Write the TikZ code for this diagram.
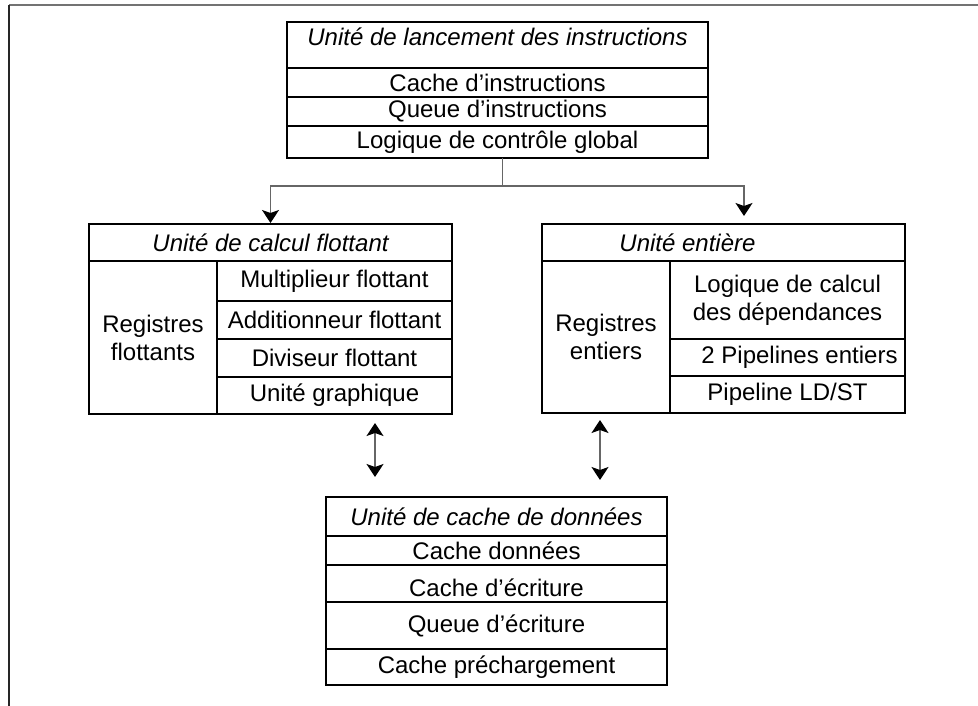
\documentclass[tikz,border=0pt]{standalone}
\usepackage{fontspec}
\setmainfont{Liberation Sans}
\usetikzlibrary{arrows.meta, positioning, calc}

\newlength{\px}
\setlength{\px}{0.75pt}

\begin{document}
\begin{tikzpicture}[
      x=0.75pt, y=-0.75pt,
      cell/.style  ={rectangle, draw, line width=1pt, inner sep=2pt, outer sep=0pt,
                     font=\fontsize{18}{21}\selectfont, align=center},
      titre/.style ={cell, font=\fontsize{18}{21}\selectfont\itshape},
      lien/.style  ={draw=black!60, line width=1pt},
      fleche/.style={lien, -{Stealth[length=9.75pt, width=12.75pt, inset=2.25pt, color=black]}},
      echange/.style={lien, {Stealth[length=9.75pt, width=12.75pt, inset=2.25pt, color=black]}-{Stealth[length=9.75pt, width=12.75pt, inset=2.25pt, color=black]}}
    ]

    \useasboundingbox (0,0) rectangle (978,706);

    % Cadre
    \draw[line width=2pt, black!55] (9,5) -- (978,5);
    \draw[line width=2pt, black!85] (9,5) -- (9,706);

    % Unite de lancement
    \node[titre, anchor=north west, minimum width=421\px, minimum height=46\px, text depth=12pt] (lanc) at (287,22) {Unité de lancement des instructions};
    \node[cell, below=0pt of lanc,   minimum width=421\px, minimum height=29\px] (cacheI) {Cache d’instructions};
    \node[cell, below=0pt of cacheI, minimum width=421\px, minimum height=29\px] (queueI) {Queue d’instructions};
    \node[cell, below=0pt of queueI, minimum width=421\px, minimum height=32\px] (ctrl)   {Logique de contrôle global};

    % Unite flottante
    \node[titre, anchor=north west, minimum width=363\px, minimum height=37\px] (fpTitre) at (89,224) {Unité de calcul flottant};
    \node[cell, anchor=north west, minimum width=128\px, minimum height=153\px] (fpReg) at (fpTitre.south west) {Registres\\flottants};
    \node[cell, anchor=north east, minimum width=235\px, minimum height=40\px] (fpMul) at (fpTitre.south east) {Multiplieur flottant};
    \node[cell, below=0pt of fpMul, minimum width=235\px, minimum height=38\px] (fpAdd)   {Additionneur flottant};
    \node[cell, below=0pt of fpAdd, minimum width=235\px, minimum height=38\px] (fpDiv)   {Diviseur flottant};
    \node[cell, below=0pt of fpDiv, minimum width=235\px, minimum height=37\px] (fpGraph) {Unité graphique};

    % Unite entiere
    \node[titre, anchor=north west, minimum width=363\px, minimum height=37\px] (entTitre) at (542,224) {Unité entière\hspace*{72\px}};
    \node[cell, anchor=north west, minimum width=128\px, minimum height=152\px] (entReg) at (entTitre.south west) {Registres\\entiers};
    \node[cell, anchor=north east, minimum width=235\px, minimum height=78\px] (entDep) at (entTitre.south east) {Logique de calcul\\des dépendances};
    \node[cell, below=0pt of entDep, minimum width=235\px, minimum height=37\px] (entPip) {\hspace*{24\px}2 Pipelines entiers};
    \node[cell, below=0pt of entPip, minimum width=235\px, minimum height=37\px] (entLS)  {Pipeline LD/ST};

    % Unite de cache de donnees
    \node[titre, anchor=north west, minimum width=341\px, minimum height=39\px] (cacheTitre) at (326,497) {Unité de cache de données};
    \node[cell, below=0pt of cacheTitre, minimum width=341\px, minimum height=29\px] (cacheD) {Cache données};
    \node[cell, below=0pt of cacheD,     minimum width=341\px, minimum height=37\px, text height=19pt] (cacheE) {Cache d’écriture};
    \node[cell, below=0pt of cacheE,     minimum width=341\px, minimum height=47\px] (queueE) {Queue d’écriture};
    \node[cell, below=0pt of queueE,     minimum width=341\px, minimum height=36\px] (cacheP) {Cache préchargement};

    % Distribution des instructions
    \coordinate (versEnt) at (744,200);
    \draw[fleche, shorten >=1\px] ([xshift=5\px]ctrl.south) -- ++(0,28) -| (fpTitre.north);
    \draw[fleche, shorten >=8\px] ([xshift=5\px]ctrl.south) -- ++(0,28) -| (entTitre.north -| versEnt);

    % Echanges avec le cache
    \coordinate (lienFp)  at (375,450);
    \coordinate (lienEnt) at (600,450);
    \draw[echange, shorten <=9\px, shorten >=20\px] (fpGraph.south -| lienFp)  -- (cacheTitre.north -| lienFp);
    \draw[echange, shorten <=7\px, shorten >=17\px] (entLS.south -| lienEnt)   -- (cacheTitre.north -| lienEnt);

  \end{tikzpicture}
\end{document}
